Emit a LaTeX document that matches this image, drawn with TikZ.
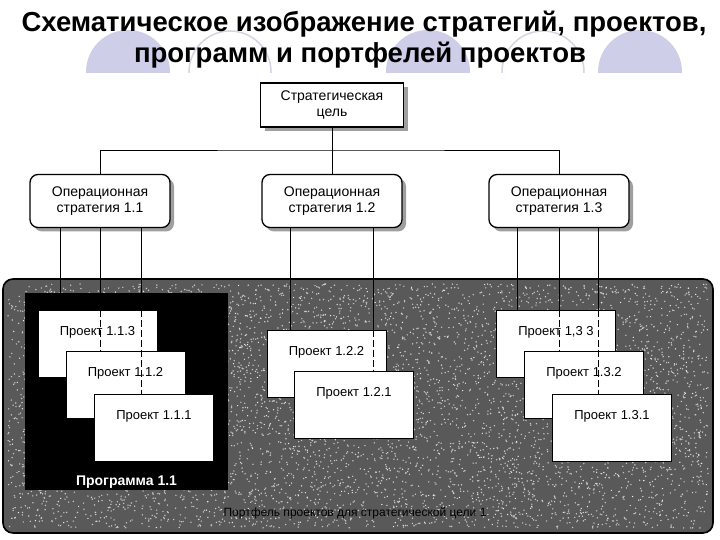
\documentclass[tikz,border=0pt]{standalone}
\usepackage{fontspec}
\setmainfont{Liberation Sans}
\usetikzlibrary{shadows}
\definecolor{lav}{RGB}{206,206,232}
\definecolor{lavline}{RGB}{212,212,226}

\begin{document}
\begin{tikzpicture}[x=1pt,y=-1pt,
  goalbox/.style={draw,line width=1.3pt,fill=white,minimum width=143pt,minimum height=44pt,align=center,
    font=\fontsize{14}{16}\selectfont,
    drop shadow={shadow xshift=4pt,shadow yshift=-4pt,fill=gray!75,opacity=1}},
  opbox/.style={goalbox,rounded corners=8pt,minimum width=140pt,minimum height=53pt},
  projbox/.style={draw,line width=1pt,fill=white,minimum width=119pt,inner ysep=6pt,
    text height=19pt,text depth=36pt,font=\fontsize{13}{15}\selectfont},
  link/.style={line width=0.8pt},
  hidden/.style={link,dash pattern=on 7pt off 3pt}]
  \useasboundingbox (0,0) rectangle (720,540);

  % decor behind the title
  \begin{scope}
    \clip (0,0) rectangle (720,73);
    \foreach \cx in {128,428,640} \fill[lav] (\cx,72) circle (42);
    \foreach \cx in {230,543} \draw[lavline,line width=1.5pt] (\cx,72) circle (41);
  \end{scope}
  \node[anchor=base,font=\bfseries\fontsize{27.5}{33}\selectfont] (title1) at (364,32) {Схематическое изображение стратегий, проектов,};
  \node[anchor=base,font=\bfseries\fontsize{27.5}{33}\selectfont] (title2) at (360,63) {программ и портфелей проектов};

  % portfolio
  \draw[line width=1.6pt,rounded corners=10pt,fill=black!65] (3,279) rectangle (713,533);
  \pgfmathsetseed{7}
  \foreach \i in {1,...,4500}
    \fill[gray!45] ({8+700*rnd},{284+244*rnd}) circle (0.8);
  \foreach \i in {1,...,1500}
    \fill[gray!15] ({8+700*rnd},{284+244*rnd}) circle (0.7);
  \node[fill=black,minimum width=203pt,minimum height=197pt] (prog) at (126.5,391.5) {};
  \node[anchor=base,text=white,font=\bfseries\fontsize{14}{16}\selectfont] (proglabel) at (126.5,485) {Программа 1.1};
  \node[anchor=base,text=black,font=\fontsize{12}{14}\selectfont] (portlabel) at (355,516) {Портфель проектов для стратегической цели 1};

  % goal and strategies
  \node[goalbox] (goal) at (332,105) {Стратегическая\\цель};
  \node[opbox] (op11) at (100,201) {Операционная\\стратегия 1.1};
  \node[opbox] (op12) at (332,201) {Операционная\\стратегия 1.2};
  \node[opbox] (op13) at (559,201) {Операционная\\стратегия 1.3};

  \coordinate (bus) at (332,150);
  \draw[link] (goal.south) -- (bus);
  \draw[link] (op11.north) |- (bus) -| (op13.north);
  \draw[link] (bus) -- (op12.north);

  % projects
  \node[projbox] (p113) at (97.5,343.5) {Проект 1.1.3};
  \node[projbox] (p112) at (125.5,385) {Проект 1.1.2};
  \node[projbox] (p111) at (154,427.5) {Проект 1.1.1};
  \node[projbox] (p122) at (326.5,363.5) {Проект 1.2.2};
  \node[projbox] (p121) at (354,405) {Проект 1.2.1};
  \node[projbox] (p133) at (556,343.5) {Проект 1,3 3};
  \node[projbox] (p132) at (584,385) {Проект 1.3.2};
  \node[projbox] (p131) at (612,427.5) {Проект 1.3.1};

  \coordinate (s11a) at ([xshift=-40pt]op11.south);
  \coordinate (s11b) at (op11.south);
  \coordinate (s11c) at ([xshift=41pt]op11.south);
  \coordinate (s12a) at ([xshift=-42pt]op12.south);
  \coordinate (s12b) at ([xshift=41pt]op12.south);
  \coordinate (s13a) at ([xshift=-42pt]op13.south);
  \coordinate (s13b) at (op13.south);
  \coordinate (s13c) at ([xshift=39pt]op13.south);

  \draw[link] (s11a) -- (s11a |- p113.north);
  \draw[link] (s11b) -- (s11b |- p113.north);
  \draw[hidden] (s11b |- p113.north) -- (s11b |- p112.north);
  \draw[link] (s11c) -- (s11c |- p113.north);
  \draw[hidden] (s11c |- p113.north) -- (s11c |- p111.north);

  \draw[link] (s12a) -- (s12a |- p122.north);
  \draw[link] (s12b) -- (s12b |- p122.north);
  \draw[hidden] (s12b |- p122.north) -- (s12b |- p121.north);

  \draw[link] (s13a) -- (s13a |- p133.north);
  \draw[link] (s13b) -- (s13b |- p133.north);
  \draw[hidden] (s13b |- p133.north) -- (s13b |- p132.north);
  \draw[link] (s13c) -- (s13c |- p133.north);
  \draw[hidden] (s13c |- p133.north) -- (s13c |- p131.north);
\end{tikzpicture}
\end{document}
